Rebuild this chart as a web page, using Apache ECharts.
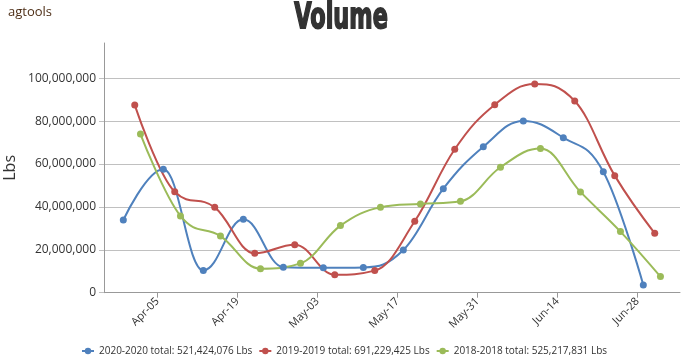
<!DOCTYPE html>
<html><head><meta charset="utf-8">
<script src="https://cdn.jsdelivr.net/npm/echarts@6/dist/echarts.min.js"></script>
<style>html,body{margin:0;padding:0;background:#fff}#c{width:688px;height:360px}</style>
</head><body><div id="c"></div>
<script>
// ---- data (all dates mapped onto a common year) ----
const seriesNames = [
  '2020-2020 total: 521,424,076 Lbs',
  '2019-2019 total: 691,229,425 Lbs',
  '2018-2018 total: 525,217,831 Lbs'
];
const dates2020 = ['03-30','04-06','04-13','04-20','04-27','05-04','05-11','05-18','05-25','06-01','06-08','06-15','06-22','06-29'];
const values2020 = [33900000,57600000,10400000,34200000,11900000,11600000,11800000,19900000,48500000,68100000,80100000,72300000,56400000,3600000];
const dates2019 = ['04-01','04-08','04-15','04-22','04-29','05-06','05-13','05-20','05-27','06-03','06-10','06-17','06-24','07-01'];
const values2019 = [87500000,47100000,39800000,18400000,22400000,8400000,10300000,33300000,66900000,87700000,97300000,89400000,54600000,27700000];
const dates2018 = ['04-02','04-09','04-16','04-23','04-30','05-07','05-14','05-21','05-28','06-04','06-11','06-18','06-25','07-02'];
const values2018 = [74000000,35800000,26400000,11200000,13700000,31300000,39800000,41400000,42600000,58500000,67200000,47000000,28500000,7500000];
const xTickLabels = ['Apr-05','Apr-19','May-03','May-17','May-31','Jun-14','Jun-28'];
const yTickValues = [0,20000000,40000000,60000000,80000000,100000000];

// ---- helpers ----
const YEAR = 2020, DAY = 86400000;
const MONTHS = ['Jan','Feb','Mar','Apr','May','Jun','Jul','Aug','Sep','Oct','Nov','Dec'];
function ts(md){ const [m,d] = md.split('-').map(Number); return Date.UTC(YEAR, m-1, d); }
function tsLabel(lbl){ const [mon,d] = lbl.split('-'); return Date.UTC(YEAR, MONTHS.indexOf(mon), Number(d)); }
function pairs(dates, vals){ return dates.map((d,i)=>[ts(d), vals[i]]); }
const xTickValues = xTickLabels.map(tsLabel);
const colors = ['#4F81BD','#C0504D','#9BBB59'];
const font = 'Open Sans, DejaVu Sans, sans-serif';

// Highcharts-style spline path through pixel points
function splinePath(pts){
  const s = 1.5, den = s + 1;
  const cps = pts.map(()=>({}));
  for (let i = 1; i < pts.length - 1; i++){
    const [px,py] = pts[i], [lx,ly] = pts[i-1], [nx,ny] = pts[i+1];
    let lcx = (s*px + lx)/den, lcy = (s*py + ly)/den;
    let rcx = (s*px + nx)/den, rcy = (s*py + ny)/den;
    let corr = 0;
    if (rcx !== lcx) corr = ((rcy - lcy)*(rcx - px))/(rcx - lcx) + py - rcy;
    lcy += corr; rcy += corr;
    if (lcy > ly && lcy > py){ lcy = Math.max(ly,py); rcy = 2*py - lcy; }
    else if (lcy < ly && lcy < py){ lcy = Math.min(ly,py); rcy = 2*py - lcy; }
    if (rcy > ny && rcy > py){ rcy = Math.max(ny,py); lcy = 2*py - rcy; }
    else if (rcy < ny && rcy < py){ rcy = Math.min(ny,py); lcy = 2*py - rcy; }
    cps[i] = {lx:lcx, ly:lcy, rx:rcx, ry:rcy};
  }
  let d = 'M' + pts[0][0] + ' ' + pts[0][1];
  for (let i = 1; i < pts.length; i++){
    const p = cps[i-1], c = cps[i];
    const x1 = p.rx !== undefined ? p.rx : pts[i-1][0], y1 = p.ry !== undefined ? p.ry : pts[i-1][1];
    const x2 = c.lx !== undefined ? c.lx : pts[i][0], y2 = c.ly !== undefined ? c.ly : pts[i][1];
    d += ' C' + x1 + ' ' + y1 + ' ' + x2 + ' ' + y2 + ' ' + pts[i][0] + ' ' + pts[i][1];
  }
  return d;
}

const seriesData = [pairs(dates2020, values2020), pairs(dates2019, values2019), pairs(dates2018, values2018)];

const chart = echarts.init(document.getElementById('c'), null, {renderer:'canvas'});
const lineSeries = seriesData.map((data,k)=>({
  name: 'spline-' + k, type:'custom', data, encode:{x:0,y:1}, z:2, silent:true,
  renderItem:(params, api)=>{
    if (params.dataIndex !== 0) return null;
    const pts = data.map(p => api.coord(p));
    return {type:'path', shape:{pathData: splinePath(pts)},
            style:{stroke: colors[k], lineWidth:2, fill:null}};
  }
}));
const markerSeries = seriesData.map((data,k)=>({
  name: seriesNames[k], type:'line', data, z:3, symbol:'circle', symbolSize:7,
  lineStyle:{width:2, color:colors[k], opacity:0}, itemStyle:{color:colors[k]}, emphasis:{disabled:true}
}));

chart.setOption({
  animation:false,
  color: colors,
  title:[
    {text:'agtools', left:3, top:1,
     textStyle:{fontFamily:font, fontWeight:'normal', fontSize:13, color:'#4e2f17'}}
  ],
  graphic:[
    {type:'text', x:341, y:19, scaleX:0.64, silent:true,
     style:{text:'Volume', fontFamily:'DejaVu Sans', fontWeight:'bold', fontSize:35,
            fill:'#333', stroke:'#333', lineWidth:1.8, align:'center', verticalAlign:'middle'}}
  ],
  grid:{left:104, right:8, top:43, bottom:67.3, containLabel:false, outerBoundsMode:'none'},
  legend:{
    top:341, left:'center', itemWidth:12, itemHeight:8, itemGap:6,
    textStyle:{fontFamily:font, fontSize:10, color:'#333'},
    lineStyle:{opacity:1, width:2},
    data: seriesNames
  },
  xAxis:{
    type:'value',
    min: Date.UTC(YEAR,3,5) - 9.38*DAY,
    max: Date.UTC(YEAR,3,5) + 91.42*DAY,
    axisLine:{show:true, lineStyle:{color:'#999', width:1}},
    axisTick:{show:true, length:5, lineStyle:{color:'#999'}, customValues: xTickValues},
    axisLabel:{
      customValues: xTickValues, rotate:45, margin:7,
      fontFamily:font, fontSize:11, color:'#333',
      formatter:(v)=>{ const i = xTickValues.indexOf(Number(v)); return i>=0 ? xTickLabels[i] : ''; }
    },
    splitLine:{show:false}
  },
  yAxis:{
    type:'value', min:0, max:116460000, interval:20000000,
    name:'Lbs', nameLocation:'middle', nameGap:86, nameRotate:90, nameMoveOverlap:false,
    nameTextStyle:{fontFamily:font, fontSize:16, color:'#333'},
    axisLine:{show:true, lineStyle:{color:'#999', width:1}},
    axisTick:{show:true, length:5, lineStyle:{color:'#c0c0c0'}, customValues: yTickValues},
    axisLabel:{customValues: yTickValues, margin:8, fontFamily:font, fontSize:12, color:'#333',
      formatter:(v)=> Number(v).toLocaleString('en-US')},
    splitLine:{show:true, lineStyle:{color:'#c0c0c0', width:1}}
  },
  series: lineSeries.concat(markerSeries)
});
</script></body></html>
